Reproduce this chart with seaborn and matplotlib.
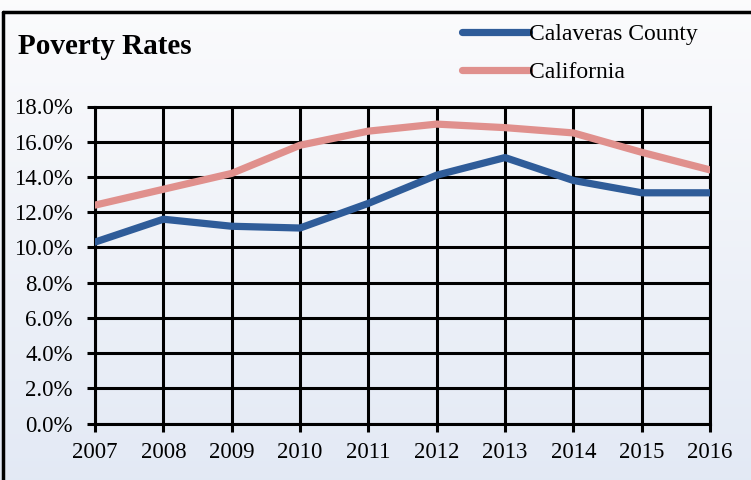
import numpy as np
import pandas as pd
import matplotlib
matplotlib.use("Agg")
import matplotlib.pyplot as plt
from matplotlib.lines import Line2D
import seaborn as sns

# Data
years = [2007, 2008, 2009, 2010, 2011, 2012, 2013, 2014, 2015, 2016]
calaveras = [10.3, 11.6, 11.2, 11.1, 12.5, 14.1, 15.1, 13.8, 13.1, 13.1]
california = [12.4, 13.3, 14.2, 15.8, 16.6, 17.0, 16.8, 16.5, 15.4, 14.4]
series_names = ["Calaveras County", "California"]
series_colors = ["#2f5c99", "#e0908d"]
y_ticks = [0, 2, 4, 6, 8, 10, 12, 14, 16, 18]

df = pd.DataFrame({
    "Year": years * 2,
    "Rate": calaveras + california,
    "Series": [series_names[0]] * len(years) + [series_names[1]] * len(years),
})

sns.set_theme(style="white")
plt.rcParams["font.family"] = ["Liberation Serif", "DejaVu Serif"]
plt.rcParams["text.color"] = "black"
plt.rcParams["xtick.color"] = "black"
plt.rcParams["ytick.color"] = "black"

fig = plt.figure(figsize=(7.51, 4.80), dpi=100)

# gradient background
bg = fig.add_axes([0, 0, 1, 1], zorder=-2)
grad = np.linspace(0, 1, 256).reshape(-1, 1)
top = np.array([0.985, 0.985, 0.99])
bot = np.array([0.89, 0.915, 0.96])
img = top + (bot - top) * grad[:, :, None]
bg.imshow(img, aspect="auto", extent=[0, 1, 0, 1], origin="upper")
bg.axis("off")

# frame around chart
fig.add_artist(Line2D([2.5 / 751, 1.0], [1 - 11.5 / 480, 1 - 11.5 / 480],
                      transform=fig.transFigure, color="black", lw=2.5))
fig.add_artist(Line2D([2.5 / 751, 2.5 / 751], [1 - 11.5 / 480, 0.0],
                      transform=fig.transFigure, color="black", lw=2.5))

ax = fig.add_axes([95 / 751, 1 - 423.5 / 480, 615 / 751, 317 / 480])
ax.set_facecolor("none")

sns.lineplot(data=df, x="Year", y="Rate", hue="Series",
             palette=dict(zip(series_names, series_colors)),
             linewidth=5.2, ax=ax, legend=False, zorder=3)

ax.set_xlim(2007, 2016)
ax.set_ylim(0, 18)
ax.set_xticks(years)
ax.set_xticklabels([str(y) for y in years], fontsize=16.5)
ax.set_yticks(y_ticks)
ax.set_yticklabels([f"{v:.1f}%" for v in y_ticks], fontsize=16.5)
ax.set_xlabel("")
ax.set_ylabel("")
ax.grid(True, color="black", linewidth=2.2)
for s in ax.spines.values():
    s.set_color("black")
    s.set_linewidth(2.2)
ax.tick_params(axis="both", which="major", length=6, width=2.2, color="black",
               direction="out", bottom=True, left=True)
ax.tick_params(axis="x", pad=7)
ax.tick_params(axis="y", pad=10)

fig.text(18 / 751, 1 - 46 / 480, "Poverty Rates", fontsize=21,
         fontweight="bold", va="center", ha="left")

handles = [Line2D([0], [0], color=c, lw=5.2) for c in series_colors]
fig.legend(handles, series_names, loc="upper left",
           bbox_to_anchor=(453 / 751, 1 - 14 / 480), frameon=False,
           fontsize=17, handlelength=2.8, handletextpad=0.0,
           labelspacing=0.7, borderaxespad=0)

fig.savefig("out.png", dpi=100)
